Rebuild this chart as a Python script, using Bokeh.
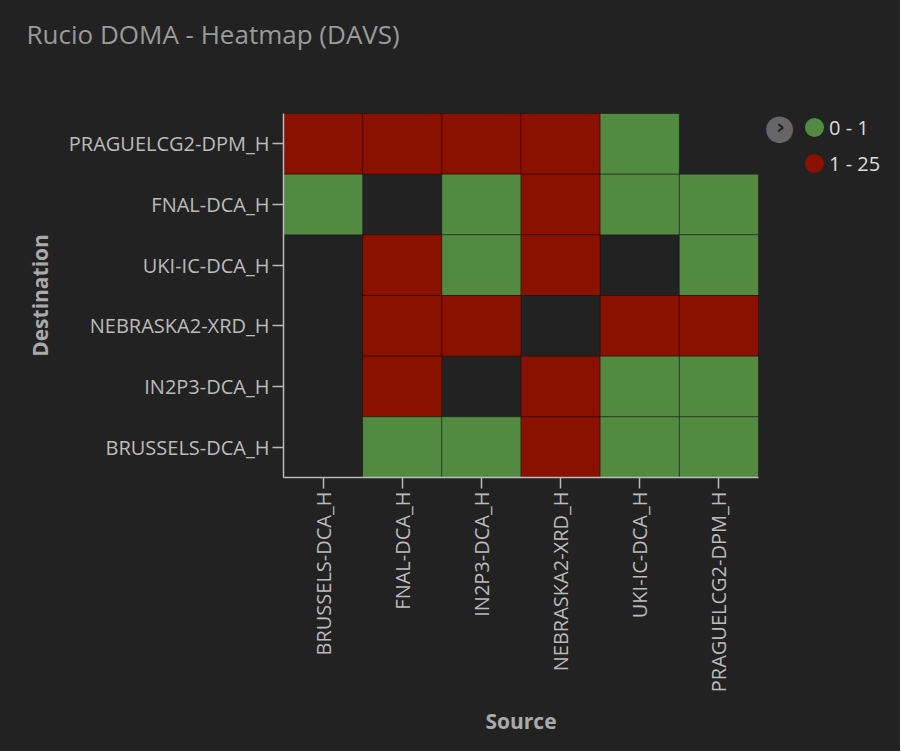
import math
from bokeh.plotting import figure
from bokeh.layouts import row
from bokeh.models import (ColumnDataSource, Legend, LegendItem, Title, Label,
                          FactorRange)
from bokeh.transform import factor_cmap
from bokeh.embed import file_html
from bokeh.resources import INLINE

# ---- data ----
sources = ["BRUSSELS-DCA_H", "FNAL-DCA_H", "IN2P3-DCA_H",
           "NEBRASKA2-XRD_H", "UKI-IC-DCA_H", "PRAGUELCG2-DPM_H"]
# bottom -> top
destinations = ["BRUSSELS-DCA_H", "IN2P3-DCA_H", "NEBRASKA2-XRD_H",
                "UKI-IC-DCA_H", "FNAL-DCA_H", "PRAGUELCG2-DPM_H"]
bins = ["0 - 1", "1 - 25"]
bin_colors = ["#538a42", "#8a1000"]

cell_source = [
    "BRUSSELS-DCA_H", "FNAL-DCA_H", "IN2P3-DCA_H", "NEBRASKA2-XRD_H", "UKI-IC-DCA_H",
    "BRUSSELS-DCA_H", "IN2P3-DCA_H", "NEBRASKA2-XRD_H", "UKI-IC-DCA_H", "PRAGUELCG2-DPM_H",
    "FNAL-DCA_H", "IN2P3-DCA_H", "NEBRASKA2-XRD_H", "PRAGUELCG2-DPM_H",
    "FNAL-DCA_H", "IN2P3-DCA_H", "UKI-IC-DCA_H", "PRAGUELCG2-DPM_H",
    "FNAL-DCA_H", "NEBRASKA2-XRD_H", "UKI-IC-DCA_H", "PRAGUELCG2-DPM_H",
    "FNAL-DCA_H", "IN2P3-DCA_H", "NEBRASKA2-XRD_H", "UKI-IC-DCA_H", "PRAGUELCG2-DPM_H",
]
cell_dest = (
    ["PRAGUELCG2-DPM_H"] * 5
    + ["FNAL-DCA_H"] * 5
    + ["UKI-IC-DCA_H"] * 4
    + ["NEBRASKA2-XRD_H"] * 4
    + ["IN2P3-DCA_H"] * 4
    + ["BRUSSELS-DCA_H"] * 5
)
cell_bin = [
    "1 - 25", "1 - 25", "1 - 25", "1 - 25", "0 - 1",
    "0 - 1", "0 - 1", "1 - 25", "0 - 1", "0 - 1",
    "1 - 25", "0 - 1", "1 - 25", "0 - 1",
    "1 - 25", "1 - 25", "1 - 25", "1 - 25",
    "1 - 25", "1 - 25", "0 - 1", "0 - 1",
    "0 - 1", "0 - 1", "1 - 25", "0 - 1", "0 - 1",
]

BG = "#222222"
TXT = "#bbbbbb"
H = 751

src = ColumnDataSource(dict(src=cell_source, dst=cell_dest, bin=cell_bin))

# ---------------- main heatmap ----------------
p = figure(x_range=sources, y_range=destinations, width=759, height=H,
           output_backend="svg", toolbar_location=None,
           min_border_left=283, min_border_top=113, min_border_right=1,
           min_border_bottom=274,
           title="Rucio DOMA - Heatmap (DAVS)")
p.background_fill_color = BG
p.border_fill_color = BG
p.outline_line_color = None
p.grid.visible = False

p.title.text_font = "Open Sans"
p.title.text_font_size = "26px"
p.title.text_font_style = "normal"
p.title.text_color = "#9a9a9a"
p.title.align = "left"
p.title.offset = -257
p.title.standoff = 0
# empty spacer between the title and the plot area
p.add_layout(Title(text=" ", text_font_size="10px", standoff=49), "above")

p.rect(x="src", y="dst", width=1, height=1, source=src,
       fill_color=factor_cmap("bin", bin_colors, bins),
       line_color="#000000", line_alpha=0.35, line_width=1)

for ax in (p.xaxis[0], p.yaxis[0]):
    ax.axis_line_color = TXT
    ax.axis_line_width = 1.5
    ax.major_tick_line_color = TXT
    ax.major_tick_line_width = 1.5
    ax.major_tick_out = 11
    ax.major_tick_in = 0
    ax.major_label_text_color = TXT
    ax.major_label_text_font = "Open Sans"
    ax.major_label_text_font_size = "20px"
    ax.major_label_standoff = 3
    ax.axis_label_text_font = "Open Sans"
    ax.axis_label_text_font_size = "21px"
    ax.axis_label_text_font_style = "bold"
    ax.axis_label_text_color = "#aaaaaa"
    ax.axis_label_standoff = 12

p.xaxis.axis_label = "Source"
p.yaxis.axis_label = "Destination"
p.xaxis.major_label_orientation = math.pi / 2

# ---------------- legend panel ----------------
lg = figure(width=900 - 759, height=H, output_backend="svg", toolbar_location=None,
            x_range=FactorRange(factors=["legend"]), y_range=FactorRange(factors=["legend"]),
            x_axis_location=None, y_axis_location=None, min_border=0)
lg.background_fill_color = None
lg.border_fill_color = BG
lg.outline_line_color = None
lg.grid.visible = False

# the cells do not map onto this panel's ranges, so only the legend glyphs show
kw = dict(x="src", y="dst", source=src, marker="circle", size=12, line_width=7)
rg = lg.scatter(fill_color=bin_colors[0], line_color=bin_colors[0], **kw)
rr = lg.scatter(fill_color=bin_colors[1], line_color=bin_colors[1], **kw)

# screen positions below are measured from the bottom-left of the plot frame
legend = Legend(items=[LegendItem(label=bins[0], renderers=[rg]),
                       LegendItem(label=bins[1], renderers=[rr])],
                location=(40, 296), glyph_width=30, glyph_height=36,
                label_standoff=0, spacing=0, padding=0, margin=0,
                background_fill_alpha=0, border_line_color=None,
                label_text_font="Open Sans", label_text_font_size="20px",
                label_text_color="#dddddd")
lg.add_layout(legend, "center")

# collapse-legend button
lg.add_layout(Label(x=20, y=351, x_units="screen", y_units="screen", text="\u25cf",
                    text_font="DejaVu Sans", text_font_size="35px", text_color="#666666",
                    text_align="center", text_baseline="middle"))
lg.add_layout(Label(x=21, y=351, x_units="screen", y_units="screen", text="\u203a",
                    text_font="DejaVu Sans", text_font_size="22px", text_font_style="bold",
                    text_color="#222222", text_align="center", text_baseline="middle"))

layout = row(p, lg, spacing=0, styles={"background-color": BG})
open("out.html", "w").write(file_html(layout, INLINE))
